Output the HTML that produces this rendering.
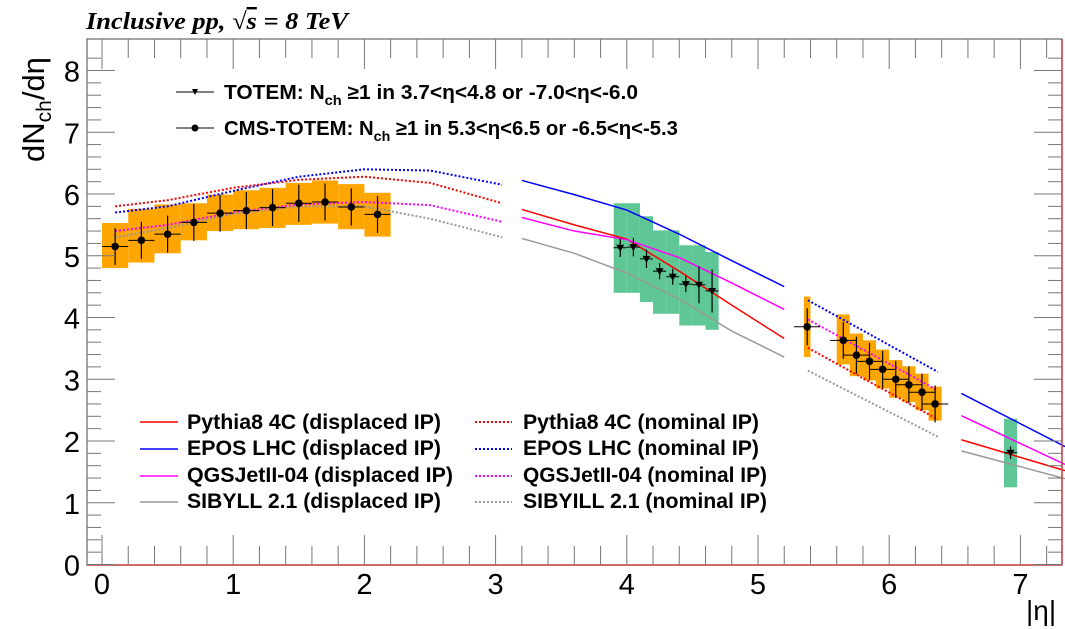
<!DOCTYPE html>
<html><head><meta charset="utf-8"><style>
html,body{margin:0;padding:0;background:#fff;}
svg{display:block;font-family:"Liberation Sans",Arial,sans-serif;}
</style></head><body>
<svg id="c" width="1065" height="629" viewBox="0 0 1065 629" xmlns="http://www.w3.org/2000/svg">
<text x="86" y="29" font-family="Liberation Serif,serif" font-style="italic" font-weight="bold" font-size="24" textLength="262" lengthAdjust="spacingAndGlyphs">Inclusive pp, √<tspan text-decoration="overline">s</tspan> = 8 TeV</text>
<text transform="translate(44,162) rotate(-90)" font-size="31">dN<tspan font-size="21" dy="7">ch</tspan><tspan dy="-7">/dη</tspan></text>
<text x="1026" y="620" font-size="28">|η|</text>
<g id="plot"></g>
</svg>
<script>
// ---- data ----
const cmsEta1 = [0.1,0.3,0.5,0.7,0.9,1.1,1.3,1.5,1.7,1.9,2.1];
const cmsVal1 = [5.15,5.25,5.35,5.54,5.69,5.73,5.78,5.85,5.87,5.79,5.67];
const cmsHi1 = [5.53,5.76,5.83,5.85,5.99,6.06,6.10,6.18,6.22,6.16,6.02];
const cmsLo1 = [4.80,4.89,5.04,5.25,5.40,5.43,5.45,5.50,5.52,5.43,5.31];
const cmsEta2 = [5.375,5.65,5.75,5.85,5.95,6.05,6.15,6.25,6.35];
const cmsVal2 = [3.85,3.63,3.39,3.29,3.16,3.00,2.91,2.79,2.60];
const cmsHi2 = [4.34,4.05,3.74,3.63,3.48,3.31,3.21,3.09,2.88];
const cmsLo2 = [3.36,3.24,3.05,2.98,2.85,2.70,2.63,2.50,2.33];
const cmsBin2 = [0.05,0.1,0.1,0.1,0.1,0.1,0.1,0.1,0.1];
const totEta = [3.95,4.05,4.15,4.25,4.35,4.45,4.55,4.65,6.925];
const totVal = [5.13,5.14,4.95,4.75,4.66,4.54,4.53,4.43,1.81];
const totHi = [5.85,5.85,5.64,5.41,5.41,5.17,5.17,5.06,2.36];
const totLo = [4.40,4.40,4.25,4.06,4.06,3.87,3.87,3.80,1.25];
const totErr = [0.15,0.15,0.15,0.13,0.13,0.13,0.3,0.35,0.1];
// model curves
const nomEta1 = [0.1,0.5,1.0,1.5,2.0,2.5,3.05];
const pyNom1 = [5.8,5.9,6.1,6.23,6.28,6.18,5.85];
const epNom1 = [5.7,5.8,6.05,6.28,6.4,6.38,6.15];
const qgNom1 = [5.4,5.5,5.7,5.83,5.87,5.82,5.55];
const sbNom1 = [5.3,5.45,5.68,5.8,5.8,5.6,5.3];
const disEta2 = [3.2,3.6,4.0,4.4,4.8,5.2];
const pyDis2 = [5.75,5.5,5.27,4.75,4.2,3.66];
const epDis2 = [6.22,5.99,5.74,5.35,4.92,4.5];
const qgDis2 = [5.62,5.4,5.26,4.97,4.56,4.13];
const sbDis2 = [5.28,5.04,4.72,4.3,3.78,3.36];
const nomEta3 = [5.38,6.37];
const pyNom3 = [3.51,2.35];
const epNom3 = [4.28,3.12];
const qgNom3 = [3.97,2.82];
const sbNom3 = [3.14,2.07];
const disEta4 = [6.55,7.34];
const pyDis4 = [2.02,1.52];
const epDis4 = [2.77,1.91];
const qgDis4 = [2.41,1.62];
const sbDis4 = [1.84,1.39];
const xTicks = [0,1,2,3,4,5,6,7];
const yTicks = [0,1,2,3,4,5,6,7,8];

// ---- axes ----
const X0=87,X1=1062,Y0=39,Y1=565;
const sx = v => 102 + v*131.2;
const sy = v => 564.5 - v*61.75;
const NS='http://www.w3.org/2000/svg';
const g=document.getElementById('plot');
function mk(tag,attrs,parent){const e=document.createElementNS(NS,tag);for(const k in attrs)e.setAttribute(k,attrs[k]);(parent||g).appendChild(e);return e;}

function boxes(eta,hi,lo,half,color,name){
  for(let i=0;i<eta.length;i++){
    const h=Array.isArray(half)?half[i]:half;
    const r=mk('rect',{x:sx(eta[i]-h),y:sy(hi[i]),width:sx(eta[i]+h)-sx(eta[i]-h),height:sy(lo[i])-sy(hi[i]),fill:color});
    
    
  }
}
boxes(cmsEta1,cmsHi1,cmsLo1,0.1,'#ffa500','cms-syst-box');
boxes(cmsEta2,cmsHi2,cmsLo2,cmsBin2.map(b=>b/2),'#ffa500','cms-syst-box');
boxes(totEta,totHi,totLo,0.05,'#5fc795','totem-syst-box');

function curve(eta,vals,color,dotted,name){
  const pts=eta.map((e,i)=>sx(e)+','+sy(vals[i])).join(' ');
  const p=mk('polyline',{points:pts,fill:'none',stroke:color,'stroke-width':dotted?2:1.5,'stroke-dasharray':dotted?'2,2':'none'});
  
  
}
curve(nomEta1,epNom1,'#0000ff',true,'epos-nominal-line');
curve(nomEta1,pyNom1,'#ff0000',true,'pythia-nominal-line');
curve(nomEta1,qgNom1,'#ff00ff',true,'qgsjet-nominal-line');
curve(nomEta1,sbNom1,'#999999',true,'sibyll-nominal-line');
curve(disEta2,epDis2,'#0000ff',false,'epos-displaced-line');
curve(disEta2,pyDis2,'#ff0000',false,'pythia-displaced-line');
curve(disEta2,qgDis2,'#ff00ff',false,'qgsjet-displaced-line');
curve(disEta2,sbDis2,'#999999',false,'sibyll-displaced-line');
curve(nomEta3,epNom3,'#0000ff',true,'epos-nominal-line');
curve(nomEta3,pyNom3,'#ff0000',true,'pythia-nominal-line');
curve(nomEta3,qgNom3,'#ff00ff',true,'qgsjet-nominal-line');
curve(nomEta3,sbNom3,'#999999',true,'sibyll-nominal-line');
curve(disEta4,epDis4,'#0000ff',false,'epos-displaced-line');
curve(disEta4,pyDis4,'#ff0000',false,'pythia-displaced-line');
curve(disEta4,qgDis4,'#ff00ff',false,'qgsjet-displaced-line');
curve(disEta4,sbDis4,'#999999',false,'sibyll-displaced-line');

function pts(eta,val,hx,ey,tri,name){
  for(let i=0;i<eta.length;i++){
    const x=sx(eta[i]),y=sy(val[i]);
    const e=Array.isArray(ey)?ey[i]:ey;
    mk('line',{x1:sx(eta[i]-hx),x2:sx(eta[i]+hx),y1:y,y2:y,stroke:'#000','stroke-width':1});
    mk('line',{x1:x,x2:x,y1:sy(val[i]+e),y2:sy(val[i]-e),stroke:'#000','stroke-width':1.2});
    let m;
    if(tri) m=mk('polygon',{points:`${x-4},${y-3} ${x+4},${y-3} ${x},${y+4}`,fill:'#000'});
    else m=mk('circle',{cx:x,cy:y,r:3.8,fill:'#000'});
    
    
  }
}
pts(cmsEta1,cmsVal1,0.1,0.3,false,'cms-totem-point');
pts(cmsEta2,cmsVal2,0.1,0.3,false,'cms-totem-point');
pts(totEta,totVal,0.05,totErr,true,'totem-point');

mk('rect',{x:X0,y:Y0,width:X1-X0,height:Y1-Y0,fill:'none',stroke:'#666','stroke-width':1.2});
mk('line',{x1:X0,x2:X1,y1:Y1,y2:Y1,stroke:'#c44','stroke-width':1.5});
mk('line',{x1:X1,x2:X1,y1:Y0,y2:Y1,stroke:'#c44','stroke-width':1.5});
for(let v=0;v<=7.3;v+=0.2){
  const vv=Math.round(v*10)/10, x=sx(vv); if(x<X0||x>X1)continue;
  const major=Math.abs(vv-Math.round(vv))<1e-6, L=major?30:19;
  mk('line',{x1:x,x2:x,y1:Y1,y2:Y1-L,stroke:'#777','stroke-width':1});
  mk('line',{x1:x,x2:x,y1:Y0,y2:Y0+L,stroke:'#777','stroke-width':1});
}
for(let v=0;v<=8.4;v+=0.2){
  const vv=Math.round(v*10)/10, y=sy(vv);
  const major=Math.abs(vv-Math.round(vv))<1e-6, L=major?28:14;
  mk('line',{x1:X0,x2:X0+L,y1:y,y2:y,stroke:'#777','stroke-width':1});
  mk('line',{x1:X1,x2:X1-L,y1:y,y2:y,stroke:'#777','stroke-width':1});
}
xTicks.forEach(t=>{const e=mk('text',{x:sx(t),y:594,'text-anchor':'middle','font-size':29});e.textContent=t;
  
  });
yTicks.forEach(t=>{const e=mk('text',{x:80,y:sy(t)+11,'text-anchor':'end','font-size':29});e.textContent=t;
  
  });
</script>
<svg width="1065" height="629" style="position:absolute;left:0;top:0" font-family="Liberation Sans,Arial,sans-serif" font-weight="bold">
<g>
<line x1="176" x2="214" y1="92" y2="92" stroke="#000"/><polygon points="192,89 198,89 195,95" fill="#000"/>
<text x="224" y="99" font-size="20" textLength="414" lengthAdjust="spacingAndGlyphs">TOTEM: N<tspan font-size="14" dy="6">ch</tspan><tspan dy="-6"> ≥1 in 3.7&lt;η&lt;4.8 or -7.0&lt;η&lt;-6.0</tspan></text></g>
<g>
<line x1="176" x2="214" y1="128" y2="128" stroke="#000"/><circle cx="195" cy="128" r="3.5" fill="#000"/>
<text x="224" y="135" font-size="20" textLength="454" lengthAdjust="spacingAndGlyphs">CMS-TOTEM: N<tspan font-size="14" dy="6">ch</tspan><tspan dy="-6"> ≥1 in 5.3&lt;η&lt;6.5 or -6.5&lt;η&lt;-5.3</tspan></text></g>
<g font-size="21">
<g><line x1="140" x2="178" y1="422" y2="422" stroke="#f00" stroke-width="1.5"/><text x="187" y="429" textLength="254" lengthAdjust="spacingAndGlyphs">Pythia8 4C (displaced IP)</text></g>
<g><line x1="140" x2="178" y1="449" y2="449" stroke="#00f" stroke-width="1.5"/><text x="187" y="455" textLength="254" lengthAdjust="spacingAndGlyphs">EPOS LHC (displaced IP)</text></g>
<g><line x1="140" x2="178" y1="476" y2="476" stroke="#f0f" stroke-width="1.5"/><text x="187" y="482" textLength="266" lengthAdjust="spacingAndGlyphs">QGSJetII-04 (displaced IP)</text></g>
<g><line x1="140" x2="178" y1="502" y2="502" stroke="#999" stroke-width="1.5"/><text x="187" y="508" textLength="254" lengthAdjust="spacingAndGlyphs">SIBYLL 2.1 (displaced IP)</text></g>
<g><line x1="475" x2="512" y1="422" y2="422" stroke="#f00" stroke-width="2" stroke-dasharray="2,2"/><text x="523" y="429" textLength="236" lengthAdjust="spacingAndGlyphs">Pythia8 4C (nominal IP)</text></g>
<g><line x1="475" x2="512" y1="449" y2="449" stroke="#00f" stroke-width="2" stroke-dasharray="2,2"/><text x="523" y="455" textLength="236" lengthAdjust="spacingAndGlyphs">EPOS LHC (nominal IP)</text></g>
<g><line x1="475" x2="512" y1="476" y2="476" stroke="#f0f" stroke-width="2" stroke-dasharray="2,2"/><text x="523" y="482" textLength="244" lengthAdjust="spacingAndGlyphs">QGSJetII-04 (nominal IP)</text></g>
<g><line x1="475" x2="512" y1="502" y2="502" stroke="#999" stroke-width="2" stroke-dasharray="2,2"/><text x="523" y="508" textLength="244" lengthAdjust="spacingAndGlyphs">SIBYILL 2.1 (nominal IP)</text></g>
</g>
</svg>
</body></html>
